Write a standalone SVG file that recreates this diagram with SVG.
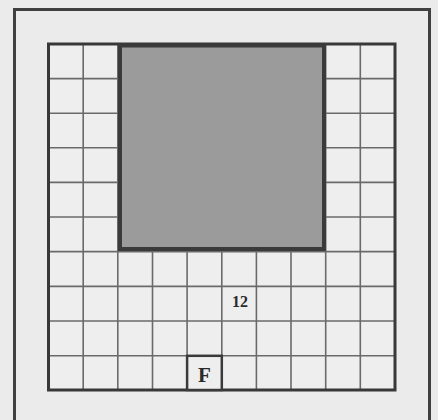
<svg xmlns="http://www.w3.org/2000/svg" width="438" height="420" viewBox="0 0 438 420">
<style>
.grid line{stroke:#6a6a6a;stroke-width:1.6}
.lbl{font-family:"Liberation Serif",serif;font-weight:bold;fill:#2a2a2a;text-anchor:middle}
</style>
<rect x="0" y="0" width="438" height="420" fill="#ebebeb"/>
<g id="frame">
<path d="M14.5 422 V9.5 H429.5 V422" fill="none" stroke="#404040" stroke-width="3"/>
</g>
<g id="board">
<rect x="48.5" y="44" width="346.5" height="346" fill="#eeeeee"/>
<g class="grid">
<line x1="83.2" y1="44" x2="83.2" y2="390"/>
<line x1="117.8" y1="44" x2="117.8" y2="390"/>
<line x1="152.5" y1="44" x2="152.5" y2="390"/>
<line x1="187.1" y1="44" x2="187.1" y2="390"/>
<line x1="221.8" y1="44" x2="221.8" y2="390"/>
<line x1="256.4" y1="44" x2="256.4" y2="390"/>
<line x1="291" y1="44" x2="291" y2="390"/>
<line x1="325.7" y1="44" x2="325.7" y2="390"/>
<line x1="360.3" y1="44" x2="360.3" y2="390"/>
<line x1="48.5" y1="78.6" x2="395" y2="78.6"/>
<line x1="48.5" y1="113.2" x2="395" y2="113.2"/>
<line x1="48.5" y1="147.8" x2="395" y2="147.8"/>
<line x1="48.5" y1="182.4" x2="395" y2="182.4"/>
<line x1="48.5" y1="217" x2="395" y2="217"/>
<line x1="48.5" y1="251.6" x2="395" y2="251.6"/>
<line x1="48.5" y1="286.4" x2="395" y2="286.4"/>
<line x1="48.5" y1="321" x2="395" y2="321"/>
<line x1="48.5" y1="355.8" x2="395" y2="355.8"/>
</g>
<rect x="48.5" y="44" width="346.5" height="346" fill="none" stroke="#383838" stroke-width="3"/>
</g>
<g id="block">
<rect x="120" y="45.5" width="204" height="203.5" fill="#9b9b9b" stroke="#3a3a3a" stroke-width="4"/>
</g>
<g id="label12">
<text class="lbl" x="240" y="306.5" font-size="16">12</text>
</g>
<g id="cellF">
<rect x="187.1" y="355.8" width="34.7" height="34.2" fill="#eeeeee" stroke="#3a3a3a" stroke-width="2.5"/>
<text class="lbl" x="204.5" y="382" font-size="21">F</text>
</g>
</svg>
